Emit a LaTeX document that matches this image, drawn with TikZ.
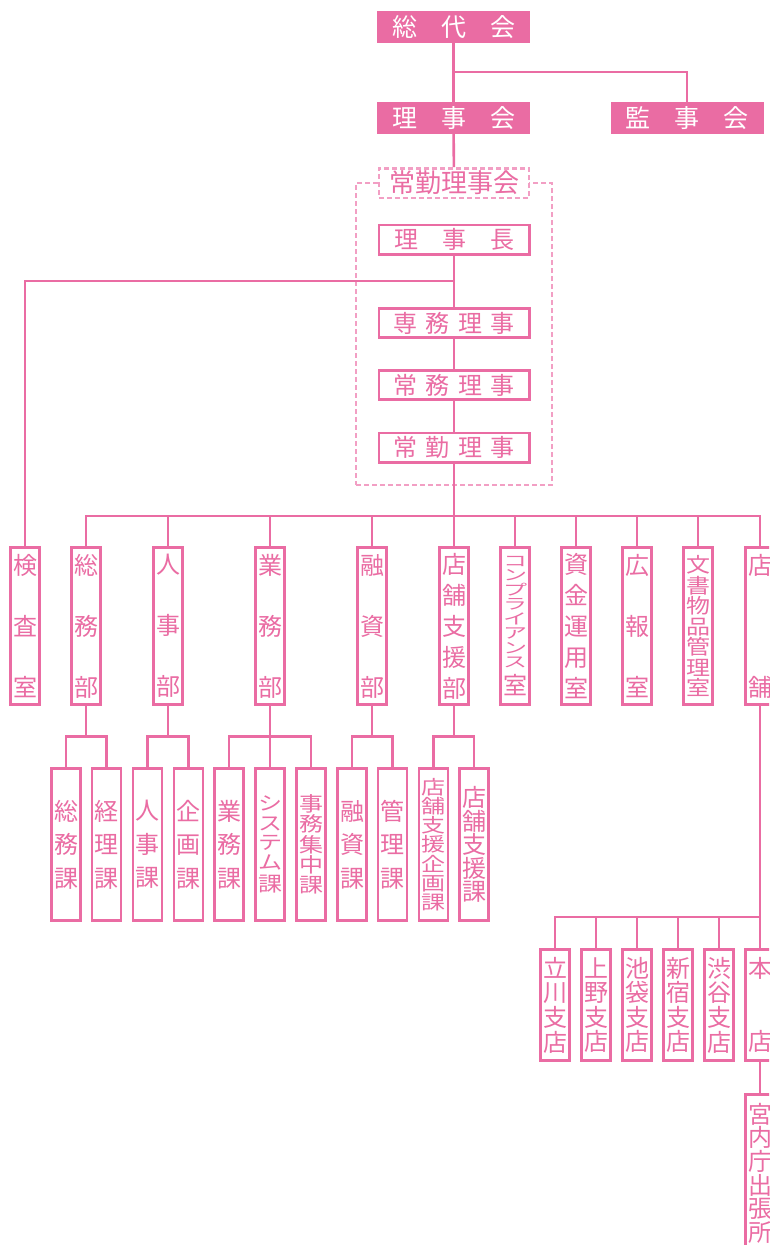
\documentclass[tikz,border=0pt]{standalone}
\usepackage{fontspec}
\usepackage{graphicx}
\usepackage{tikz}
\usetikzlibrary{positioning,calc}
\newfontfamily\jp{Noto Sans CJK JP}
\definecolor{momo}{HTML}{EA6CA3}
\definecolor{usumomo}{HTML}{F29FC4}
\newcommand{\aki}[1]{\hspace{#1pt}}
\newcommand{\hira}[2][.72]{\scalebox{1}[#1]{#2}}

\begin{document}
\begin{tikzpicture}[x=1pt, y=-1pt, font=\jp,
  kai/.style={fill=momo, text=white, minimum width=153pt, minimum height=32pt, inner sep=0pt, font=\jp\fontsize{25}{25}\selectfont},
  yaku/.style={draw=momo, fill=white, text=momo, line width=2.6pt, minimum width=150.4pt, minimum height=29.4pt, inner sep=0pt, font=\jp\fontsize{24}{24}\selectfont},
  tate/.style={draw=momo, fill=white, text=momo, line width=2.6pt, minimum width=28.9pt, inner sep=0pt, align=center},
  bu/.style={tate, minimum height=157.4pt},
  ka/.style={tate, minimum height=152.4pt},
  mise/.style={tate, minimum height=111.4pt},
  gyou/.style={font=\jp\fontsize{24}{#1}\selectfont},
  sen/.style={draw=momo, line width=2.6pt},
  hasen/.style={draw=usumomo, line width=2.4pt, dash pattern=on 5pt off 3pt}]
  \clip (0,0) rectangle (769,1245);
  % kaigi
  \node[kai] (sodai) at (453.5,27) {総\aki{24}代\aki{24}会};
  \node[kai] (rijikai) at (453.5,118) {理\aki{24}事\aki{24}会};
  \node[kai] (kanjikai) at (687,118) {監\aki{24}事\aki{24}会};
  \coordinate (kbunki) at (453.5,72);
  \draw[sen] (sodai) -- (rijikai);
  \draw[sen] (kanjikai.north) |- (kbunki);
  % joukin rijikai
  \node[hasen, minimum width=196pt, minimum height=302pt, inner sep=0pt] (waku) at (454,334) {};
  \node[yaku, hasen, font=\jp\fontsize{26}{26}\selectfont] (joukinkai) at (454,183) {常勤理事会};
  \draw[sen] (rijikai) -- (joukinkai);
  \node[yaku] (rijicho) at (454,239.5) {理\aki{24}事\aki{24}長};
  \node[yaku] (senmu) at (454,323) {専\aki{8.5}務\aki{8.5}理\aki{8.5}事};
  \node[yaku] (joumu) at (454,385) {常\aki{8.5}務\aki{8.5}理\aki{8.5}事};
  \node[yaku] (joukinriji) at (454,447.5) {常\aki{8.5}勤\aki{8.5}理\aki{8.5}事};
  \draw[sen] (rijicho) -- (senmu) -- (joumu) -- (joukinriji);
  \coordinate (bunki) at (454,281);
  \coordinate (honsen) at (454,516);
  \draw[sen] (joukinriji) -- (honsen);
  % bu, shitsu
  \node[bu, gyou=61] (kensa) at (25,626) {検\\査\\室};
  \draw[sen] (kensa.north) |- (bunki);
  \node[bu, gyou=61] (soumubu) at (86,626) {総\\務\\部};
  \node[bu, gyou=61] (jinjibu) at (168,626) {人\\事\\部};
  \node[bu, gyou=61] (gyoumubu) at (270,626) {業\\務\\部};
  \node[bu, gyou=61] (yuushibu) at (372,626) {融\\資\\部};
  \node[bu, gyou=31] (shienbu) at (454,626) {店\\舗\\支\\援\\部};
  \node[bu, gyou=14.5] (compli) at (515,626)
    {\hira[.62]{コ}\\\hira[.62]{ン}\\\hira[.62]{プ}\\\hira[.62]{ラ}\\\hira[.62]{イ}\\\hira[.62]{ア}\\\hira[.62]{ン}\\\hira[.62]{ス}\\[5pt]室};
  \node[bu, gyou=31] (shikin) at (576,626) {資\\金\\運\\用\\室};
  \node[bu, gyou=61] (kouhou) at (637,626) {広\\報\\室};
  \node[bu, gyou=20.5] (bunsho) at (698,626)
    {\hira[.85]{文}\\\hira[.85]{書}\\\hira[.85]{物}\\\hira[.85]{品}\\\hira[.85]{管}\\\hira[.85]{理}\\\hira[.85]{室}};
  \node[bu, gyou=122] (tenpo) at (760,626) {店\\舗};
  \draw[sen] (soumubu.north) -- (soumubu.north |- honsen) -- (tenpo.north |- honsen) -- (tenpo.north);
  \foreach \b in {jinjibu,gyoumubu,yuushibu,shienbu,compli,shikin,kouhou,bunsho}
    \draw[sen] (\b.north) -- (\b.north |- honsen);
  % ka
  \node[ka, gyou=33.5] (soumuka) at (66,844.5) {総\\務\\課};
  \node[ka, gyou=33.5] (keirika) at (106.5,844.5) {経\\理\\課};
  \node[ka, gyou=33.5] (jinjika) at (147.5,844.5) {人\\事\\課};
  \node[ka, gyou=33.5] (kikakuka) at (188.5,844.5) {企\\画\\課};
  \node[ka, gyou=33.5] (gyoumuka) at (229,844.5) {業\\務\\課};
  \node[ka, gyou=19.5] (systemka) at (270,844.5)
    {\hira[.8]{シ}\\\hira[.8]{ス}\\\hira[.8]{テ}\\\hira[.8]{ム}\\[3pt]\hira[.85]{課}};
  \node[ka, gyou=20.3] (jimuka) at (311,844.5)
    {\hira[.84]{事}\\\hira[.84]{務}\\\hira[.84]{集}\\\hira[.84]{中}\\\hira[.84]{課}};
  \node[ka, gyou=33.5] (yuushika) at (352,844.5) {融\\資\\課};
  \node[ka, gyou=33.5] (kanrika) at (392.5,844.5) {管\\理\\課};
  \node[ka, gyou=19.2] (shienkikakuka) at (433.5,844.5)
    {\hira[.8]{店}\\\hira[.8]{舗}\\\hira[.8]{支}\\\hira[.8]{援}\\\hira[.8]{企}\\\hira[.8]{画}\\\hira[.8]{課}};
  \node[ka, gyou=23.5] (shienka) at (474,844.5) {店\\舗\\支\\援\\課};
  \foreach \oya/\hidari/\migi in {soumubu/soumuka/keirika, jinjibu/jinjika/kikakuka,
      gyoumubu/gyoumuka/jimuka, yuushibu/yuushika/kanrika, shienbu/shienkikakuka/shienka}{
    \coordinate (m-\oya) at ($(\oya.south)!.5!(\oya.south |- \hidari.north)$);
    \draw[sen] (\oya.south) -- (m-\oya);
    \draw[sen] (\hidari.north) |- (m-\oya) -| (\migi.north);
  }
  \draw[sen] (m-gyoumubu) -- (systemka.north);
  % shiten
  \node[mise, gyou=24.6] (tachikawa) at (555,1005) {立\\川\\支\\店};
  \node[mise, gyou=24.6] (ueno) at (596,1005) {上\\野\\支\\店};
  \node[mise, gyou=24.6] (ikebukuro) at (637,1005) {池\\袋\\支\\店};
  \node[mise, gyou=24.6] (shinjuku) at (678,1005) {新\\宿\\支\\店};
  \node[mise, gyou=24.6] (shibuya) at (719,1005) {渋\\谷\\支\\店};
  \node[mise, gyou=73.7] (honten) at (760,1005) {本\\店};
  \coordinate (shitenbus) at (760,917);
  \draw[sen] (tenpo) -- (honten);
  \draw[sen] (tachikawa.north) |- (shitenbus);
  \foreach \s in {ueno,ikebukuro,shinjuku,shibuya}
    \draw[sen] (\s.north) -- (\s.north |- shitenbus);
  \node[tate, gyou=23.7, minimum height=158pt, anchor=north] (kunaichou) at (760,1093) {宮\\内\\庁\\出\\張\\所};
  \draw[sen] (honten) -- (kunaichou);
\end{tikzpicture}
\end{document}
